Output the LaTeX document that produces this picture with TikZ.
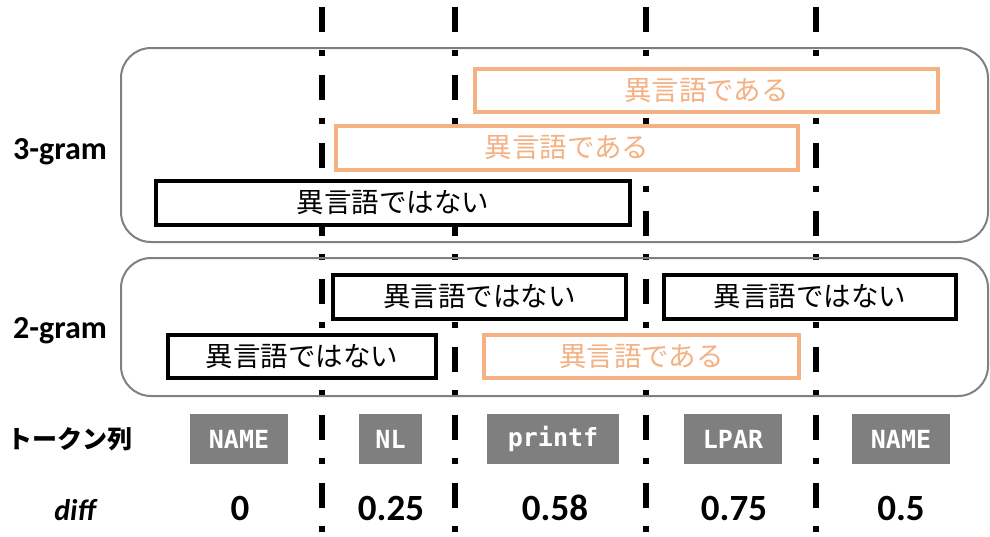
\documentclass[tikz,border=0pt]{standalone}
\usepackage{fontspec}
\setmainfont{Carlito}
\newfontfamily\jpfont{Noto Sans CJK JP}
\newfontfamily\monofont{DejaVu Sans Mono}
\definecolor{orng}{HTML}{F4B183}
\definecolor{frame}{HTML}{808080}
\definecolor{tokgray}{HTML}{7F7F7F}
\tikzset{
  sepline/.style={line width=6pt, dash pattern=on 25pt off 18pt on 6pt off 19pt},
  groupbox/.style={draw=frame, line width=2pt, rounded corners=30pt},
  ngbox/.style={draw=black, line width=4pt, fill=white, inner sep=0pt,
    font=\jpfont\fontsize{27.5}{30}\selectfont, text=black},
  oabox/.style={draw=orng, line width=4pt, fill=white, inner sep=0pt,
    font=\jpfont\fontsize{27.5}{30}\selectfont, text=orng},
  tok/.style={fill=tokgray, inner sep=0pt, minimum height=50pt,
    font=\monofont\bfseries\fontsize{25}{28}\selectfont, text=white},
  rowlabel/.style={font=\bfseries\fontsize{32}{34}\selectfont, anchor=base},
  val/.style={font=\bfseries\fontsize{37}{39}\selectfont, anchor=base},
}
\begin{document}
\begin{tikzpicture}[x=1pt,y=-1pt]
\useasboundingbox (0,0) rectangle (990,536);
% separator lines
\foreach \i/\x in {1/322,2/455,3/646,4/816}{
  \coordinate (t\i) at (\x,7);
  \coordinate (b\i) at (\x,540);
  \draw[sepline] (t\i) -- (b\i);
}
% group frames
\draw[groupbox] (121,48) rectangle (988,242);
\draw[groupbox] (121,258) rectangle (988,396);
% 3-gram boxes
\node[oabox, minimum width=463pt, minimum height=43pt] (o1) at (706.5,90.5) {異言語である};
\node[oabox, minimum width=462pt, minimum height=44pt] (o2) at (567,148) {異言語である};
\node[ngbox, minimum width=474pt, minimum height=44pt] (n3) at (393,203) {異言語ではない};
% 2-gram boxes
\node[ngbox, minimum width=293pt, minimum height=44pt] (n2a) at (479.5,297) {異言語ではない};
\node[ngbox, minimum width=292pt, minimum height=44pt] (n2b) at (810,297) {異言語ではない};
\node[ngbox, minimum width=268pt, minimum height=43pt] (n2c) at (302,356.5) {異言語ではない};
\node[oabox, minimum width=315pt, minimum height=43pt] (o2d) at (641.5,356.5) {異言語である};
% row labels
\node[rowlabel] (l3) at (60,159) {3-gram};
\node[rowlabel] (l2) at (60,338) {2-gram};
\node[font=\jpfont\bfseries\fontsize{25}{27}\selectfont] (lt) at (70,439) {トークン列};
\node[font=\bfseries\itshape\fontsize{30}{32}\selectfont, anchor=base] (ld) at (75,520) {diff};
% tokens
\node[tok, minimum width=98pt] (k1) at (239,439) {NAME};
\node[tok, minimum width=63pt] (k2) at (390.5,439) {NL};
\node[tok, minimum width=132pt] (k3) at (553,439) {printf};
\node[tok, minimum width=98pt] (k4) at (733,439) {LPAR};
\node[tok, minimum width=98pt] (k5) at (901,439) {NAME};
% diff values
\node[val] (v1) at (240,520) {0};
\node[val] (v2) at (391,520) {0.25};
\node[val] (v3) at (555,520) {0.58};
\node[val] (v4) at (734,520) {0.75};
\node[val] (v5) at (901,520) {0.5};
\end{tikzpicture}
\end{document}
